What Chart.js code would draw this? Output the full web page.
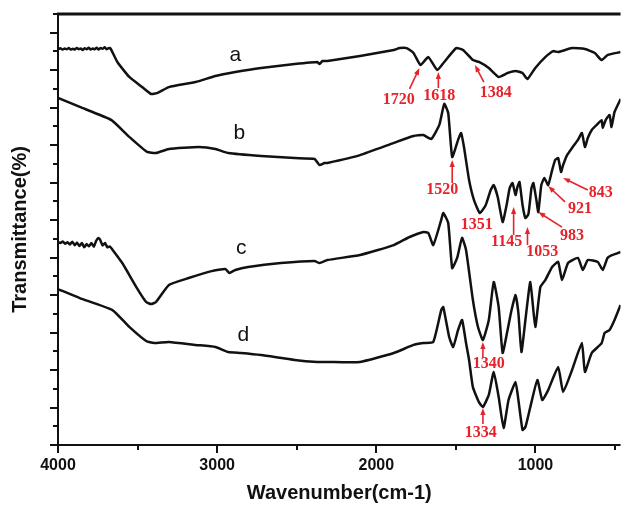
<!DOCTYPE html>
<html>
<head>
<meta charset="utf-8">
<script src="https://cdn.jsdelivr.net/npm/chart.js@4.4.1/dist/chart.umd.min.js"></script>
<style>
  html, body { margin: 0; padding: 0; background: #fff; }
  #wrap { width: 626px; height: 508px; }
</style>
</head>
<body>
<div id="wrap"><canvas id="chart" width="626" height="508"></canvas></div>
<script>
// FTIR spectra: wavenumber (cm-1) and transmittance (offset units)
const waveA = [4000,3985,3970,3958,3945,3932,3920,3907,3895,3882,3870,3857,3845,3832,3820,3807,3795,3782,3770,3757,3745,3732,3720,3707,3695,3682,3670,3627,3552,3471,3415,3378,3303,3135,3011,2886,2724,2513,2370,2357,2338,2307,2102,1890,1853,1809,1766,1722,1673,1617,1573,1498,1455,1393,1355,1293,1231,1175,1125,1081,1050,1001,938,888,857,770,689,627,584,547,465];
const transA = [21.13,21.17,21.1,21.16,21.12,21.18,21.1,21.15,21.11,21.19,21.12,21.16,21.08,21.17,21.12,21.2,21.1,21.16,21.12,21.2,21.11,21.18,21.14,21.22,21.12,21.18,21.16,20.44,19.64,19.10,18.73,18.78,19.10,19.37,19.69,19.90,20.12,20.33,20.44,20.33,20.49,20.49,20.76,21.08,21.18,21.18,20.92,20.28,20.70,20.01,20.44,21.18,21.08,20.54,20.44,20.12,19.64,19.85,19.96,19.85,19.53,20.12,20.70,21.02,20.97,21.18,21.13,20.92,20.54,20.81,20.97];

const waveB = [4000,3863,3664,3552,3440,3384,3303,3116,3011,2930,2724,2513,2388,2357,2326,2307,2102,1890,1766,1704,1654,1604,1573,1548,1523,1486,1467,1449,1417,1386,1349,1312,1281,1262,1237,1206,1181,1162,1144,1125,1113,1100,1081,1063,1044,1025,1013,994,982,963,944,920,895,876,857,839,826,801,770,733,708,689,671,646,615,584,577,559,534,522,503,465];
const transB = [18.52,18.04,17.34,16.44,15.64,15.58,15.80,15.90,15.80,15.58,15.42,15.31,15.26,14.94,15.05,15.05,15.47,16.12,16.49,16.54,16.33,17.08,18.20,17.72,15.37,16.28,16.65,15.90,14.14,13.07,12.38,12.81,13.61,13.87,13.23,11.90,12.81,13.71,13.98,13.34,13.77,14.03,12.81,12.11,12.33,13.71,13.98,13.07,12.43,13.87,14.25,13.87,14.67,15.21,15.31,14.57,14.94,15.47,15.85,16.28,16.65,15.90,16.38,16.81,17.08,17.34,16.92,17.34,17.61,16.97,17.77,18.46];

const waveC = [4000,3985,3970,3955,3940,3925,3910,3895,3880,3865,3850,3835,3820,3805,3790,3775,3760,3745,3735,3720,3705,3690,3675,3660,3596,3508,3446,3415,3384,3303,3179,3035,2948,2923,2886,2805,2600,2388,2357,2307,2102,1890,1791,1704,1673,1642,1592,1579,1548,1523,1492,1461,1436,1393,1361,1330,1293,1262,1231,1206,1175,1150,1125,1107,1088,1063,1032,1001,969,938,895,857,833,795,733,702,671,608,577,547,515,465];
const transC = [10.83,10.78,10.86,10.74,10.82,10.7,10.85,10.66,10.8,10.62,10.78,10.55,10.72,10.6,10.78,10.58,10.9,11.05,10.95,10.65,10.78,10.55,10.6,10.45,9.71,8.43,7.63,7.52,7.63,8.54,8.91,9.28,9.39,9.18,9.34,9.50,9.71,9.82,9.71,9.87,10.14,10.67,11.10,11.37,11.31,10.67,12.01,12.38,11.85,9.44,9.98,11.05,10.41,7.74,6.30,5.60,6.67,8.70,7.36,4.91,6.14,7.20,8.00,7.04,4.96,6.67,8.70,6.30,8.43,8.80,9.50,9.77,8.80,9.71,9.98,9.34,9.87,9.77,9.34,9.98,10.14,10.30];

const waveD = [4000,3863,3658,3552,3446,3396,3303,3135,3011,2930,2849,2724,2513,2370,2307,2102,1890,1766,1704,1642,1592,1579,1542,1517,1486,1461,1436,1417,1393,1355,1330,1293,1262,1231,1200,1169,1125,1107,1081,1063,1032,988,957,920,857,826,770,708,689,646,584,565,534,503,465];
const transD = [8.32,7.84,7.20,6.30,5.55,5.44,5.50,5.34,5.23,4.96,4.91,4.80,4.54,4.43,4.43,4.43,4.91,5.34,5.44,5.50,7.20,7.36,5.76,5.23,6.14,6.67,5.44,4.54,3.09,2.29,2.03,2.67,3.90,2.56,0.91,2.40,3.36,2.40,0.80,0.96,2.03,3.47,2.40,2.93,4.16,2.83,4.00,5.44,3.90,4.91,5.44,5.98,6.14,6.67,7.47];

// curve letters and where they sit
const curveNames = ['a', 'b', 'c', 'd'];
const curveNameWave = [2886, 2861, 2849, 2836];
const curveNameTrans = [20.81, 16.65, 10.51, 5.87];

// red peak annotations (null = no arrow)
const peakText = ['1720', '1618', '1384', '1520', '1351', '1145', '1053', '983', '921', '843', '1340', '1334'];
const peakTextWave = [1859, 1604, 1249, 1586, 1368, 1181, 957, 770, 720, 590, 1293, 1343];
const peakTextTrans = [18.41, 18.62, 18.78, 13.61, 11.74, 10.83, 10.30, 11.15, 12.59, 13.45, 4.32, 0.64];
const arrowTailWave = [1791, 1610, 1324, 1523, null, 1137, 1050, 833, 814, 671, 1330, 1330];
const arrowTailTrans = [19.0, 19.05, 19.37, 13.98, null, 11.21, 10.67, 11.63, 12.97, 13.61, 4.70, 1.12];
const arrowHeadWave = [1729, 1610, 1380, 1523, null, 1137, 1050, 982, 920, 826, 1330, 1330];
const arrowHeadTrans = [20.12, 19.90, 20.28, 15.21, null, 12.70, 11.63, 12.43, 13.82, 14.25, 5.50, 1.97];

// axis ticks
const xTickValues = [4000, 3500, 3000, 2500, 2000, 1500, 1000, 500];
const xTickLabels = ['4000', '', '3000', '', '2000', '', '1000', ''];
const yTickValues = [0,1,2,3,4,5,6,7,8,9,10,11,12,13,14,15,16,17,18,19,20,21,22,23];

const INK = '#111';
const RED = '#e6232b';

function toPoints(xs, ys) {
    return xs.map((x, i) => ({ x: x, y: ys[i] }));
}

function drawArrow(ctx, x0, y0, x1, y1) {
    const ang = Math.atan2(y1 - y0, x1 - x0);
    const c = Math.cos(ang), s = Math.sin(ang);
    ctx.beginPath();
    ctx.moveTo(x0, y0);
    ctx.lineTo(x1 - 4 * c, y1 - 4 * s);
    ctx.stroke();
    ctx.beginPath();
    ctx.moveTo(x1, y1);
    ctx.lineTo(x1 - 7 * c + 2.6 * s, y1 - 7 * s - 2.6 * c);
    ctx.lineTo(x1 - 7 * c - 2.6 * s, y1 - 7 * s + 2.6 * c);
    ctx.closePath();
    ctx.fill();
}

// frame, tick marks, curve letters and peak labels
const decorations = {
    id: 'decorations',
    afterDraw(chart) {
        const { ctx, chartArea: a, scales: { x, y } } = chart;
        ctx.save();
        ctx.strokeStyle = INK;
        ctx.lineCap = 'butt';

        // axes
        ctx.lineWidth = 2;
        ctx.beginPath();
        ctx.moveTo(a.left, a.top);
        ctx.lineTo(a.left, a.bottom);
        ctx.lineTo(a.right, a.bottom);
        ctx.stroke();
        ctx.lineWidth = 3;
        ctx.beginPath();
        ctx.moveTo(a.left - 1, a.top);
        ctx.lineTo(a.right, a.top);
        ctx.stroke();

        // ticks: long on majors, short on minors
        ctx.lineWidth = 2;
        xTickValues.forEach(v => {
            const px = Math.round(x.getPixelForValue(v));
            const len = v % 1000 === 0 ? 8 : 5;
            ctx.beginPath();
            ctx.moveTo(px, a.bottom);
            ctx.lineTo(px, a.bottom + len);
            ctx.stroke();
        });
        yTickValues.forEach(v => {
            const py = Math.round(y.getPixelForValue(v));
            const len = v % 2 === 0 ? 8 : 5;
            ctx.beginPath();
            ctx.moveTo(a.left, py);
            ctx.lineTo(a.left - len, py);
            ctx.stroke();
        });

        // curve letters
        ctx.fillStyle = INK;
        ctx.font = '21px "Liberation Sans", Arial, sans-serif';
        ctx.textAlign = 'center';
        ctx.textBaseline = 'middle';
        curveNames.forEach((n, i) => {
            ctx.fillText(n, x.getPixelForValue(curveNameWave[i]), y.getPixelForValue(curveNameTrans[i]));
        });

        // peak annotations
        ctx.fillStyle = RED;
        ctx.strokeStyle = RED;
        ctx.lineWidth = 1.6;
        ctx.font = 'bold 16px "Liberation Serif", "Times New Roman", serif';
        peakText.forEach((t, i) => {
            ctx.fillText(t, x.getPixelForValue(peakTextWave[i]), y.getPixelForValue(peakTextTrans[i]));
            if (arrowTailWave[i] === null) return;
            drawArrow(ctx,
                x.getPixelForValue(arrowTailWave[i]), y.getPixelForValue(arrowTailTrans[i]),
                x.getPixelForValue(arrowHeadWave[i]), y.getPixelForValue(arrowHeadTrans[i]));
        });
        ctx.restore();
    }
};

function makeSeries(label, xs, ys) {
    return {
        label: label,
        data: toPoints(xs, ys),
        borderColor: INK,
        borderWidth: 2.5,
        borderJoinStyle: 'round',
        pointRadius: 0,
        tension: 0.15,
        fill: false
    };
}

const ctx = document.getElementById('chart');
new Chart(ctx, {
    type: 'line',
    data: {
        datasets: [
            makeSeries('a', waveA, transA),
            makeSeries('b', waveB, transB),
            makeSeries('c', waveC, transC),
            makeSeries('d', waveD, transD)
        ]
    },
    options: {
        responsive: false,
        animation: false,
        devicePixelRatio: 1,
        layout: { padding: { top: 14, right: 0, left: 0, bottom: 0 } },
        plugins: { legend: { display: false }, tooltip: { enabled: false } },
        scales: {
            x: {
                type: 'linear',
                reverse: true,
                min: 465,
                max: 4000,
                afterBuildTicks: s => { s.ticks = xTickValues.map(v => ({ value: v })); },
                afterFit: s => { s.height = 63; },
                grid: { display: false, drawTicks: false },
                border: { display: false },
                ticks: {
                    autoSkip: false,
                    maxRotation: 0,
                    padding: 11,
                    color: INK,
                    font: { family: '"Liberation Sans", Arial, sans-serif', size: 16, weight: 'bold' },
                    callback: (v) => xTickLabels[xTickValues.indexOf(v)] || ''
                },
                title: {
                    display: true,
                    text: 'Wavenumber(cm-1)',
                    color: INK,
                    padding: { top: 0, bottom: 3 },
                    font: { family: '"Liberation Sans", Arial, sans-serif', size: 20, weight: 'bold' }
                }
            },
            y: {
                min: 0,
                max: 23,
                afterBuildTicks: s => { s.ticks = yTickValues.map(v => ({ value: v })); },
                afterFit: s => { s.width = 58; },
                grid: { display: false, drawTicks: false },
                border: { display: false },
                ticks: { display: false },
                title: {
                    display: true,
                    text: 'Transmittance(%)',
                    color: INK,
                    padding: { top: 8, bottom: 0 },
                    font: { family: '"Liberation Sans", Arial, sans-serif', size: 20, weight: 'bold' }
                }
            }
        }
    },
    plugins: [decorations]
});
</script>
</body>
</html>
